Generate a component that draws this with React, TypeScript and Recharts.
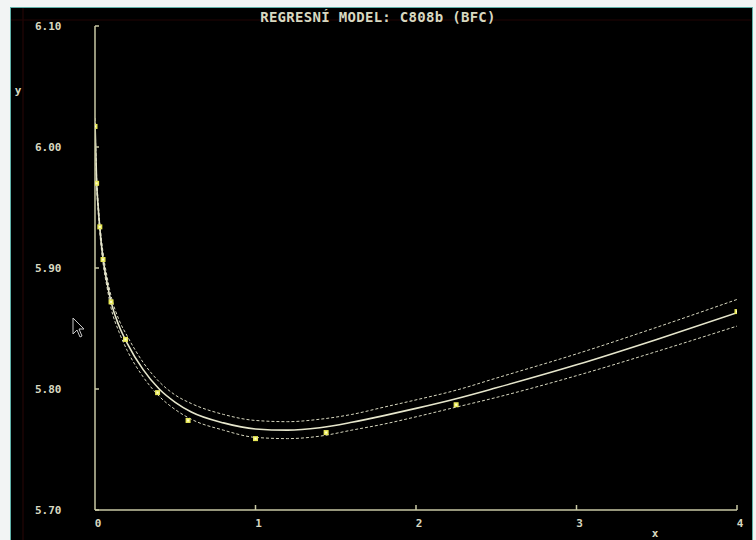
import React from 'react';
import { ComposedChart, Line, Scatter, XAxis, YAxis } from 'recharts';

// measured points
const obsX = [0, 0.01, 0.03, 0.05, 0.1, 0.19, 0.39, 0.58, 1.0, 1.44, 2.25, 4.0];
const obsY = [6.017, 5.97, 5.934, 5.907, 5.872, 5.841, 5.797, 5.774, 5.759, 5.764, 5.787, 5.864];

// fitted model with its confidence band
const fitX = [0, 0.01, 0.02, 0.03, 0.05, 0.075, 0.1, 0.15, 0.2, 0.3, 0.4, 0.5, 0.6, 0.8, 1.0, 1.2, 1.4, 1.6, 1.8, 2.0, 2.25, 2.5, 3.0, 3.5, 4.0];
const fitY = [6.020, 5.972, 5.950, 5.933, 5.908, 5.888, 5.872, 5.852, 5.838, 5.816, 5.800, 5.789, 5.781, 5.772, 5.767, 5.766, 5.768, 5.7725, 5.778, 5.784, 5.792, 5.801, 5.820, 5.841, 5.863];
const upperY = [6.024, 5.976, 5.954, 5.937, 5.913, 5.893, 5.877, 5.857, 5.844, 5.822, 5.806, 5.795, 5.788, 5.779, 5.774, 5.773, 5.775, 5.779, 5.785, 5.791, 5.799, 5.809, 5.829, 5.851, 5.874];
const lowerY = [6.016, 5.968, 5.946, 5.929, 5.904, 5.884, 5.867, 5.847, 5.832, 5.810, 5.794, 5.783, 5.775, 5.766, 5.760, 5.759, 5.761, 5.766, 5.771, 5.777, 5.785, 5.793, 5.811, 5.831, 5.852];

const xTicks = [0, 1, 2, 3, 4];
const yTicks = [5.7, 5.8, 5.9, 6.0, 6.1];

const TITLE = 'REGRESNÍ MODEL: C808b (BFC)';

const W = 756;
const H = 540;
const LEFT = 95;
const TOP = 26;
const RIGHT = 737;
const BOTTOM = 510;

const AXIS = '#c8c8a4';
const TEXT = '#d8d8c0';
const FONT = '"DejaVu Sans Mono", monospace';

const fitRows = fitX.map((x, i) => ({ x, fit: fitY[i], upper: upperY[i], lower: lowerY[i] }));
const obsRows = obsX.map((x, i) => ({ x, y: obsY[i] }));

const YTick = (props: any) => {
  const { y, payload } = props;
  return (
    <g>
      <line x1={LEFT} y1={y} x2={LEFT + 4} y2={y} stroke={AXIS} strokeWidth={1.5} />
      <text x={35} y={y} dominantBaseline="central" fill={TEXT} fontSize={11} fontWeight="bold" fontFamily={FONT}>
        {Number(payload.value).toFixed(2)}
      </text>
    </g>
  );
};

const XTick = (props: any) => {
  const { x, payload } = props;
  return (
    <g>
      {payload.value !== 0 && (
        <line x1={x} y1={BOTTOM} x2={x} y2={BOTTOM - 5} stroke={AXIS} strokeWidth={1.5} />
      )}
      <text x={x + 3} y={BOTTOM + 13} textAnchor="middle" dominantBaseline="central" fill={TEXT} fontSize={11} fontWeight="bold" fontFamily={FONT}>
        {payload.value}
      </text>
    </g>
  );
};

const Square = (props: any) => {
  const { cx, cy } = props;
  return (
    <g>
      <rect x={cx - 2.5} y={cy - 2.5} width={5} height={5} fill="#e8e858" />
      <rect x={cx - 1} y={cy - 1} width={2} height={2} fill="#ffffd0" />
    </g>
  );
};

export default function App() {
  return (
    <div style={{ position: 'absolute', left: 0, top: 0, width: W, height: H, background: '#f2f4f4', overflow: 'hidden' }}>
      <div
        style={{
          position: 'absolute',
          left: 10,
          top: 7,
          width: 741,
          height: H - 7,
          background: '#000',
          borderLeft: '1px solid #5fb0a8',
          borderTop: '1px solid #5fb0a8',
          borderRight: '1px solid #5fb0a8',
        }}
      />
      <div style={{ position: 'absolute', left: 0, top: 0 }}>
        <ComposedChart
          width={W}
          height={H}
          data={fitRows}
          margin={{ top: TOP, right: W - RIGHT, bottom: H - BOTTOM - 1, left: LEFT - 1 }}
        >
          <XAxis
            type="number"
            dataKey="x"
            domain={[0, 4]}
            ticks={xTicks}
            height={1}
            axisLine={{ stroke: AXIS, strokeWidth: 1.5 }}
            tickLine={false}
            tick={<XTick />}
            allowDataOverflow
          />
          <YAxis
            type="number"
            domain={[5.7, 6.1]}
            ticks={yTicks}
            width={1}
            axisLine={{ stroke: AXIS, strokeWidth: 1.5 }}
            tickLine={false}
            tick={<YTick />}
            allowDataOverflow
          />
          <Line type="monotone" dataKey="upper" stroke="#d8d8c0" strokeWidth={1} strokeDasharray="3 2" dot={false} isAnimationActive={false} />
          <Line type="monotone" dataKey="lower" stroke="#d8d8c0" strokeWidth={1} strokeDasharray="3 2" dot={false} isAnimationActive={false} />
          <Line type="monotone" dataKey="fit" stroke="#e6e6cc" strokeWidth={1.6} dot={false} isAnimationActive={false} />
          <Scatter data={obsRows} dataKey="y" shape={<Square />} isAnimationActive={false} />
        </ComposedChart>
      </div>
      <svg width={W} height={H} style={{ position: 'absolute', left: 0, top: 0, pointerEvents: 'none' }}>
        <line x1={23} y1={8} x2={23} y2={H} stroke="#2a0606" strokeWidth={1} />
        <line x1={11} y1={20} x2={751} y2={20} stroke="#220404" strokeWidth={1} />
        <text x={378} y={17} textAnchor="middle" dominantBaseline="central" fill={TEXT} fontSize={14} fontWeight="bold" letterSpacing={0.3} fontFamily={FONT}>
          {TITLE}
        </text>
        <text x={18} y={90} textAnchor="middle" dominantBaseline="central" fill={TEXT} fontSize={11} fontWeight="bold" fontFamily={FONT}>
          y
        </text>
        <text x={655} y={533} textAnchor="middle" dominantBaseline="central" fill={TEXT} fontSize={11} fontWeight="bold" fontFamily={FONT}>
          x
        </text>
        <path d="M73 318 L73 334 L77 330 L80 337 L82 336 L79 329 L84 329 Z" fill="#000" stroke="#c8c8c8" strokeWidth={1} />
      </svg>
    </div>
  );
}
